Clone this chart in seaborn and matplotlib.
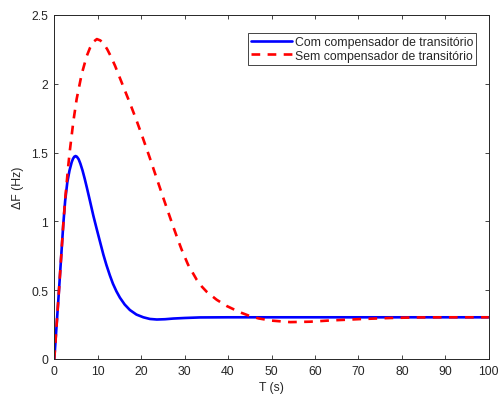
import pandas as pd
import matplotlib
matplotlib.use("Agg")
import matplotlib.pyplot as plt
import seaborn as sns

# time (s) and frequency deviation (Hz)
t_com = [0, 1.08, 2.07, 2.5, 3.0, 3.5, 4.0, 4.3, 4.6, 4.9, 5.2, 5.6, 6.0, 6.5,
         7.0, 7.5, 8.2, 9.0, 9.76, 10.5, 11.3, 12.0, 12.8, 13.5, 14.3, 15.1,
         16.2, 17.4, 18.9, 20.5, 22.0, 23.6, 25.5, 27.4, 30.0, 33.5, 40.0,
         60.0, 80.0, 100.0]
f_com = [0, 0.5, 0.98, 1.15, 1.285, 1.37, 1.43, 1.455, 1.47, 1.475, 1.47, 1.452, 1.42, 1.37,
         1.31, 1.245, 1.15, 1.04, 0.945, 0.855, 0.758, 0.683, 0.607, 0.547, 0.492, 0.446,
         0.396, 0.356, 0.323, 0.303, 0.291, 0.287, 0.289, 0.294, 0.298, 0.302, 0.303,
         0.303, 0.303, 0.303]

t_sem = [0, 1.08, 2.07, 2.5, 3.2, 3.6, 4.4, 5.15, 6.3, 7.45, 8.2, 9.0, 9.8, 10.6,
         11.4, 12.2, 13.0, 14.0, 15.0, 16.2, 17.4, 18.8, 20.4, 22.0, 23.6, 25.1,
         26.3, 27.4, 28.4, 29.3, 30.8, 32.8, 34.0, 35.1, 37.4, 39.7, 42.7, 44.7,
         47.0, 50.0, 54.3, 58.9, 63.5, 70.4, 77.3, 83.0, 90.0, 100.0]
f_sem = [0, 0.5, 0.98, 1.16, 1.40, 1.52, 1.73, 1.89, 2.07, 2.20, 2.26, 2.305, 2.325, 2.315,
         2.29, 2.25, 2.20, 2.13, 2.05, 1.955, 1.86, 1.745, 1.605, 1.46, 1.31, 1.17,
         1.06, 0.96, 0.872, 0.796, 0.685, 0.575, 0.525, 0.488, 0.43, 0.385, 0.34, 0.316,
         0.295, 0.279, 0.268, 0.271, 0.28, 0.29, 0.298, 0.302, 0.303, 0.303]

labels = ["Com compensador de transitório", "Sem compensador de transitório"]
x_ticks = list(range(0, 101, 10))
y_ticks = [0, 0.5, 1, 1.5, 2, 2.5]

sns.set_style("ticks")
plt.rcParams["font.family"] = ["Liberation Sans", "DejaVu Sans"]
fs = 8.8
dark = "#262626"

fig = plt.figure(figsize=(5.0, 4.02), dpi=100)
ax = fig.add_axes([0.1086, 0.1045, 0.8688, 0.8557])

sns.lineplot(x=t_com, y=f_com, ax=ax, color="#0000FF", linewidth=1.9,
             label=labels[0], sort=False)
sns.lineplot(x=t_sem, y=f_sem, ax=ax, color="#FF0000", linewidth=1.9,
             linestyle=(0, (3.3, 2.8)), label=labels[1], sort=False)

ax.set_xlim(0, 100)
ax.set_ylim(0, 2.5)
ax.set_xticks(x_ticks)
ax.set_yticks(y_ticks)
ax.set_yticklabels(["0", "0.5", "1", "1.5", "2", "2.5"])
ax.set_xlabel("T (s)", fontsize=fs, color=dark, labelpad=3)
ax.set_ylabel("ΔF (Hz)", fontsize=fs, color=dark, labelpad=5)

for side in ["left", "right", "top", "bottom"]:
    ax.spines[side].set_visible(True)
    ax.spines[side].set_color(dark)
    ax.spines[side].set_linewidth(0.7)
ax.tick_params(direction="in", length=3.2, width=0.6, color=dark,
               labelsize=fs, labelcolor=dark, pad=4.5,
               top=True, right=True)

leg = ax.legend(loc="upper right", bbox_to_anchor=(0.971, 0.948),
                borderaxespad=0, fontsize=fs, frameon=True, fancybox=False,
                framealpha=1, edgecolor=dark, handlelength=3.35,
                handletextpad=0.25, borderpad=0.25, labelspacing=0.15)
leg.get_frame().set_linewidth(0.6)

fig.savefig("out.png", dpi=100)
